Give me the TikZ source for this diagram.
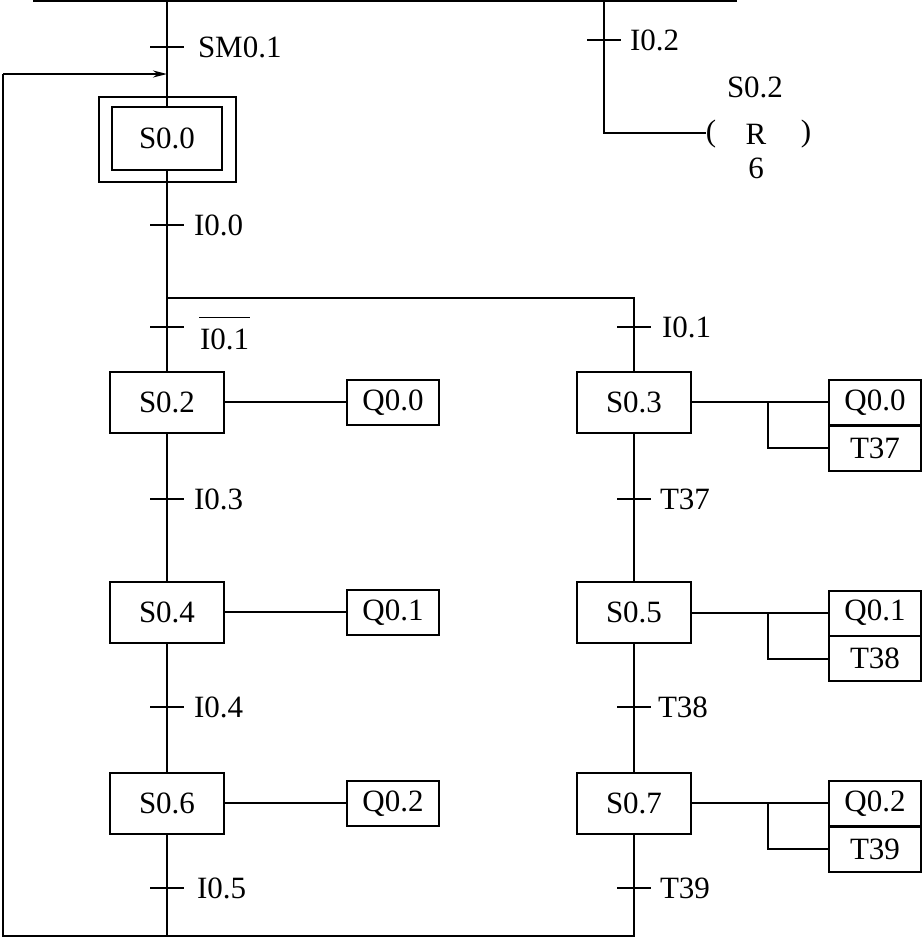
\documentclass[tikz,border=0pt]{standalone}
\usepackage{fontspec}
\setmainfont{Liberation Serif}
\usetikzlibrary{arrows.meta}
\begin{document}
\begin{tikzpicture}[x=1pt,y=-1pt, line width=2pt,
  every node/.style={font=\fontsize{31}{36}\selectfont, inner sep=0pt},
  stepbox/.style={draw, minimum width=114pt, minimum height=61pt},
  actbox/.style={draw, minimum width=92pt, minimum height=45pt},
  lbl/.style={anchor=west},
  tk/.style={line width=2pt}]
\useasboundingbox (0,0) rectangle (923,938);
% initial step
\node[draw, minimum width=137pt, minimum height=85pt] (s00o) at (167,139.5) {};
\node[draw, minimum width=110pt, minimum height=63pt] (s00) at (167,138.5) {S0.0};
% steps
\node[stepbox] (s02) at (167,402) {S0.2};
\node[stepbox] (s04) at (167,612) {S0.4};
\node[stepbox] (s06) at (167,803) {S0.6};
\node[stepbox] (s03) at (634,402) {S0.3};
\node[stepbox] (s05) at (634,612) {S0.5};
\node[stepbox] (s07) at (634,803) {S0.7};
% actions left
\node[actbox] (a02) at (393,402.5) {Q0.0};
\node[actbox] (a04) at (393,612.5) {Q0.1};
\node[actbox] (a06) at (393,803.5) {Q0.2};
% actions right
\node[actbox] (a03) at (875,402.5) {Q0.0};
\node[actbox] (b03) at (875,448) {T37};
\node[actbox] (a05) at (875,613) {Q0.1};
\node[actbox] (b05) at (875,658.5) {T38};
\node[actbox] (a07) at (875,803.5) {Q0.2};
\node[actbox] (b07) at (875,849) {T39};
% coordinates
\coordinate (top) at (167,1);
\coordinate (railL) at (33,1);
\coordinate (railR) at (737,1);
\coordinate (jL) at (167,298);
\coordinate (jR) at (634,298);
\coordinate (botL) at (167,936);
\coordinate (botR) at (634,936);
\coordinate (loopB) at (3,936);
\coordinate (loopT) at (3,74);
\coordinate (loopE) at (167,74);
\coordinate (rtop) at (604,1);
\coordinate (rcorner) at (604,133);
\coordinate (rend) at (706,133);
\coordinate (br3) at (768,402);
\coordinate (br3b) at (768,448);
\coordinate (br5) at (768,613);
\coordinate (br5b) at (768,659);
\coordinate (br7) at (768,803);
\coordinate (br7b) at (768,849);
% transitions
\coordinate (t1) at (167,47);
\coordinate (t2) at (167,225);
\coordinate (t3) at (167,327);
\coordinate (t4) at (634,327);
\coordinate (t5) at (167,499);
\coordinate (t6) at (634,499);
\coordinate (t7) at (167,707);
\coordinate (t8) at (634,707);
\coordinate (t9) at (167,888);
\coordinate (t10) at (634,888);
\coordinate (t11) at (604,40);
\foreach \t in {t1,t2,t3,t4,t5,t6,t7,t8,t9,t10,t11}
  \draw[tk] ([xshift=-17pt]\t) -- ([xshift=17pt]\t);
% labels
\node[lbl] (l1) at (197,47) {SM0.1};
\node[lbl] (l2) at (193,225) {I0.0};
\node[lbl] (l3) at (199,339) {I0.1};
\draw[line width=1.6pt] ([yshift=10pt]l3.north west) -- ([yshift=10pt]l3.north east);
\node[lbl] (l4) at (661,327) {I0.1};
\node[lbl] (l5) at (193,499) {I0.3};
\node[lbl] (l6) at (659,499) {T37};
\node[lbl] (l7) at (193,707) {I0.4};
\node[lbl] (l8) at (657,707) {T38};
\node[lbl] (l9) at (196,888) {I0.5};
\node[lbl] (l10) at (659,888) {T39};
\node[lbl] (l11) at (629,40) {I0.2};
% reset coil
\node (rs) at (755,87) {S0.2};
\node (rp1) at (711,134) {(};
\node (rr) at (756,134) {R};
\node (rp2) at (806,134) {)};
\node (rn) at (756,168) {6};
% lines
\draw (railL) -- (railR);
\draw (top) -- (s00.north);
\draw (s00.south) -- (jL) -- (s02.north);
\draw (jL) -- (jR) -- (s03.north);
\draw (s02.south) -- (s04.north);
\draw (s04.south) -- (s06.north);
\draw (s06.south) -- (botL);
\draw (s03.south) -- (s05.north);
\draw (s05.south) -- (s07.north);
\draw (s07.south) -- (botR) -- (loopB) -- (loopT);
\draw[-{Stealth[length=14pt,width=7pt]}] (loopT) -- (loopE);
\draw (rtop) -- (rcorner) -- (rend);
\draw (s02.east) -- (a02.west |- s02.east);
\draw (s04.east) -- (a04.west |- s04.east);
\draw (s06.east) -- (a06.west |- s06.east);
\draw (s03.east |- br3) -- (a03.west |- br3);
\draw (br3) -- (br3b) -- (b03.west |- br3b);
\draw (s05.east |- br5) -- (a05.west |- br5);
\draw (br5) -- (br5b) -- (b05.west |- br5b);
\draw (s07.east |- br7) -- (a07.west |- br7);
\draw (br7) -- (br7b) -- (b07.west |- br7b);
\end{tikzpicture}
\end{document}
